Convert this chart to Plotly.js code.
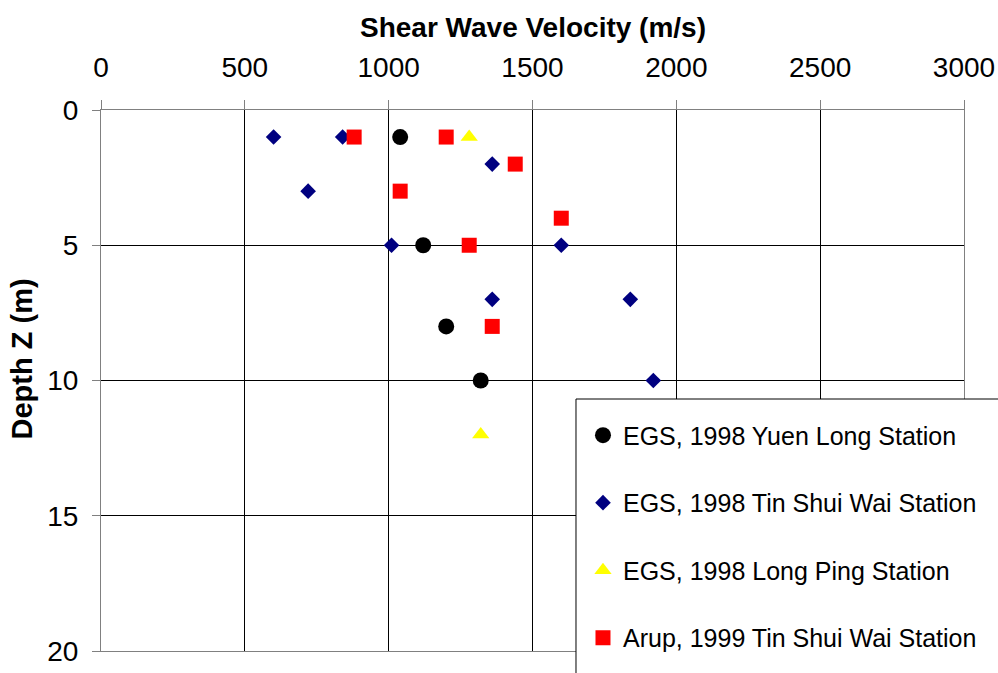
<!DOCTYPE html>
<html>
<head>
<meta charset="utf-8">
<script src="https://cdn.plot.ly/plotly-3.0.1.min.js"></script>
<style>html,body{margin:0;padding:0;background:#fff;}#chart{width:998px;height:673px;}</style>
</head>
<body>
<div id="chart"></div>
<script>
// Series data: shear wave velocity (m/s) vs depth (m)
const seriesNames = [
  "EGS, 1998 Yuen Long Station",
  "EGS, 1998 Tin Shui Wai Station",
  "EGS, 1998 Long Ping Station",
  "Arup, 1999 Tin Shui Wai Station"
];
const yuenLongVs = [1040, 1120, 1200, 1320];
const yuenLongZ  = [1, 5, 8, 10];
const tswEgsVs = [600, 840, 720, 1360, 1010, 1600, 1360, 1840, 1920];
const tswEgsZ  = [1, 1, 3, 2, 5, 5, 7, 7, 10];
const longPingVs = [1280, 1320];
const longPingZ  = [1, 12];
const arupVs = [880, 1200, 1040, 1440, 1600, 1280, 1360];
const arupZ  = [1, 1, 3, 2, 4, 5, 8];
const xTicks = [0, 500, 1000, 1500, 2000, 2500, 3000];
const yTicks = [0, 5, 10, 15, 20];
const xTitle = "Shear Wave Velocity (m/s)";
const yTitle = "Depth Z (m)";

const font = "Arial, 'Liberation Sans', sans-serif";

const traces = [
  {x: yuenLongVs, y: yuenLongZ, name: seriesNames[0], legendgroup: "a",
   marker: {symbol: "circle", size: 16, color: "#000000"}},
  {x: tswEgsVs, y: tswEgsZ, name: seriesNames[1], legendgroup: "b",
   marker: {symbol: "diamond", size: 12, color: "#000080"}},
  {x: longPingVs, y: longPingZ, name: seriesNames[2], legendgroup: "c",
   marker: {symbol: "triangle-up", size: 15, color: "#FFFF00"}},
  {x: arupVs, y: arupZ, name: seriesNames[3], legendgroup: "d",
   marker: {symbol: "square", size: 15, color: "#FF0000"}}
].map(t => Object.assign({type: "scatter", mode: "markers", cliponaxis: false}, t));

const layout = {
  width: 998, height: 673,
  paper_bgcolor: "#fff", plot_bgcolor: "#fff",
  margin: {l: 101, r: 34, t: 110, b: 22},
  font: {family: font, size: 25, color: "#000"},
  showlegend: true,
  xaxis: {
    side: "top", range: [0, 3000], tickvals: xTicks, ticktext: xTicks.map(String),
    showgrid: true, gridcolor: "#000", gridwidth: 1,
    showline: true, mirror: true, linecolor: "#808080", linewidth: 1,
    ticks: "outside", ticklen: 9, tickcolor: "#808080",
    tickfont: {size: 28}, ticklabelstandoff: 12, zeroline: false
  },
  yaxis: {
    range: [20, 0], tickvals: yTicks, ticktext: yTicks.map(String),
    showgrid: true, gridcolor: "#000", gridwidth: 1,
    showline: true, mirror: true, linecolor: "#808080", linewidth: 1,
    ticks: "outside", ticklen: 8, tickcolor: "#808080",
    tickfont: {size: 28}, ticklabelstandoff: 8, zeroline: false
  },
  annotations: [
    {text: "<b>" + xTitle + "</b>", xref: "paper", yref: "paper", x: 0.5, y: 1.1516,
     xanchor: "center", yanchor: "middle", showarrow: false, font: {size: 28}},
    {text: "<b>" + yTitle + "</b>", xref: "paper", yref: "paper", x: -0.091, y: 0.5397,
     xanchor: "center", yanchor: "middle", textangle: -90, showarrow: false, font: {size: 29}}
  ],
  shapes: [{
    type: "rect", xref: "paper", yref: "paper", layer: "above",
    x0: 0.5504, x1: 1.2, y0: -0.2, y1: 0.4658,
    fillcolor: "#fff", line: {color: "#000", width: 1}
  }],
  legend: {
    x: 0.5585, xanchor: "left", y: 0.441, yanchor: "top",
    bgcolor: "rgba(0,0,0,0)", borderwidth: 0,
    traceorder: "grouped", tracegroupgap: 32,
    font: {size: 25, family: font}
  }
};

Plotly.newPlot("chart", traces, layout, {displayModeBar: false, staticPlot: true});
</script>
</body>
</html>
